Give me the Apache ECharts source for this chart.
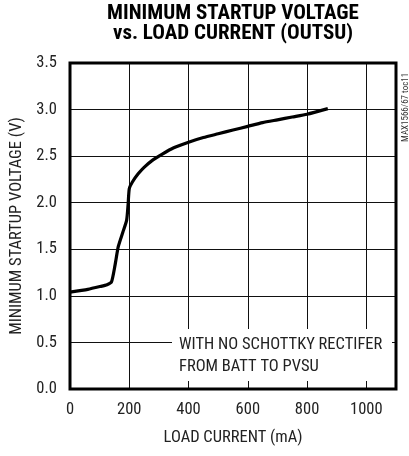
<!DOCTYPE html>
<html>
<head>
<meta charset="utf-8">
<script src="https://cdn.jsdelivr.net/npm/echarts@6/dist/echarts.min.js"></script>
<style>
  html, body { margin: 0; padding: 0; background: #fff; }
  #chart { width: 409px; height: 456px; }
</style>
</head>
<body>
<div id="chart"></div>
<script>
  // load current (mA) vs minimum startup voltage (V)
  var loadCurrent = [0, 60, 101, 125, 140, 152, 163, 178, 191, 196, 200, 210, 230, 250, 280, 310, 350, 400, 450, 500, 550, 600, 650, 700, 750, 800, 870];
  var startupVolt = [1.04, 1.07, 1.10, 1.12, 1.15, 1.33, 1.53, 1.68, 1.81, 1.98, 2.15, 2.22, 2.31, 2.38, 2.46, 2.52, 2.59, 2.65, 2.70, 2.74, 2.78, 2.82, 2.86, 2.89, 2.92, 2.95, 3.01];
  var xTicks = [0, 200, 400, 600, 800, 1000];

  var FONT = '"Roboto Condensed", "Liberation Sans", sans-serif';
  var points = loadCurrent.map(function (x, i) { return [x, startupVolt[i]]; });

  var chart = echarts.init(document.getElementById('chart'));
  var option = {
    backgroundColor: '#fff',
    animation: false,
    title: {
      text: 'MINIMUM STARTUP VOLTAGE\nvs. LOAD CURRENT (OUTSU)',
      left: 233, top: 4, padding: 0, textAlign: 'center',
      textStyle: { fontFamily: FONT, fontWeight: 'bold', fontSize: 21, lineHeight: 20, color: '#000' }
    },
    grid: {
      left: 70, right: 13, top: 63, bottom: 67,
      show: true, borderColor: '#000', borderWidth: 3, backgroundColor: 'transparent', z: 3
    },
    xAxis: {
      type: 'value', min: 0, max: 1100, interval: 200,
      name: 'LOAD CURRENT (mA)', nameLocation: 'middle', nameGap: 40,
      nameTextStyle: { fontFamily: FONT, fontSize: 16.5, color: '#222' },
      axisLine: { show: false }, axisTick: { show: false },
      axisLabel: {
        margin: 12, fontFamily: FONT, fontSize: 16.5, color: '#222',
        formatter: function (v) { return xTicks.indexOf(v) >= 0 ? String(v) : ''; }
      },
      splitLine: { show: true, lineStyle: { color: '#111', width: 1 } }
    },
    yAxis: {
      type: 'value', min: 0, max: 3.5, interval: 0.5,
      name: 'MINIMUM STARTUP VOLTAGE (V)', nameLocation: 'middle', nameGap: 40,
      nameTextStyle: { fontFamily: FONT, fontSize: 16.5, color: '#222' },
      axisLine: { show: false }, axisTick: { show: false },
      axisLabel: {
        margin: 13, fontFamily: FONT, fontSize: 16.5, color: '#222',
        formatter: function (v) { return v.toFixed(1); }
      },
      splitLine: { show: true, lineStyle: { color: '#111', width: 1 } }
    },
    graphic: [
      {
        type: 'rect', left: 172, top: 329, z: 2,
        shape: { width: 220, height: 52 },
        style: { fill: '#fff' }
      },
      {
        type: 'text', left: 179, top: 334, z: 3,
        style: {
          text: 'WITH NO SCHOTTKY RECTIFER\nFROM BATT TO PVSU',
          font: '16.5px ' + FONT, lineHeight: 22, fill: '#222'
        }
      },
      {
        type: 'text', x: 401, y: 142, rotation: Math.PI / 2, z: 3,
        style: { text: 'MAX1566/67 toc11', font: '9px ' + FONT, fill: '#333' }
      }
    ],
    series: [{
      type: 'line',
      data: points,
      showSymbol: false,
      smooth: 0.2,
      z: 4,
      lineStyle: { color: '#000', width: 3.2 }
    }]
  };
  chart.setOption(option);
</script>
</body>
</html>
